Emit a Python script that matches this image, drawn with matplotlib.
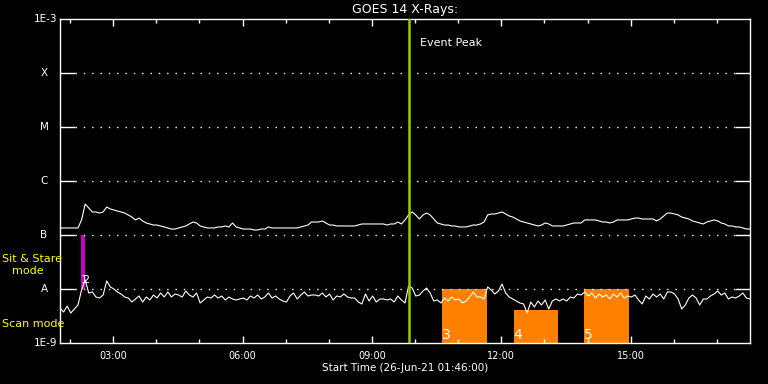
import matplotlib
matplotlib.use("Agg")
import matplotlib.pyplot as plt
import matplotlib.dates as mdates
import matplotlib.transforms as mtransforms
import numpy as np
import pandas as pd

day = "2021-06-26 "
startTime = pd.Timestamp(day + "01:46")
endTime = pd.Timestamp(day + "17:46")

# GOES 14 long channel (1-8 A), 5 min cadence, units of 1e-7 W/m^2
longFlux = np.array([
    1.35, 1.35, 1.35, 1.35, 1.35, 1.35, 1.90, 3.75, 3.16, 2.67,
    2.67, 2.55, 2.67, 3.30, 3.03, 2.90, 2.78, 2.67, 2.55, 2.35,
    2.15, 1.90, 2.06, 1.82, 1.67, 1.60, 1.53, 1.53, 1.47, 1.41,
    1.35, 1.29, 1.29, 1.35, 1.41, 1.47, 1.60, 1.74, 1.67, 1.47,
    1.41, 1.35, 1.35, 1.35, 1.41, 1.41, 1.47, 1.41, 1.67, 1.41,
    1.35, 1.29, 1.29, 1.29, 1.24, 1.24, 1.29, 1.29, 1.41, 1.35,
    1.35, 1.35, 1.35, 1.35, 1.35, 1.35, 1.35, 1.41, 1.47, 1.53,
    1.74, 1.74, 1.74, 1.82, 1.67, 1.53, 1.53, 1.47, 1.47, 1.47,
    1.47, 1.47, 1.47, 1.53, 1.60, 1.60, 1.60, 1.60, 1.60, 1.60,
    1.60, 1.53, 1.60, 1.60, 1.74, 1.60, 1.90, 2.35, 2.67, 2.35,
    1.98, 2.35, 2.55, 2.35, 1.98, 1.67, 1.60, 1.53, 1.53, 1.47,
    1.47, 1.41, 1.41, 1.41, 1.47, 1.53, 1.53, 1.60, 1.74, 2.35,
    2.45, 2.45, 2.55, 2.67, 2.45, 2.25, 2.15, 1.98, 1.82, 1.74,
    1.67, 1.60, 1.53, 1.47, 1.53, 1.67, 1.60, 1.47, 1.47, 1.47,
    1.47, 1.53, 1.60, 1.67, 1.67, 1.67, 1.90, 1.90, 1.90, 1.90,
    1.82, 1.74, 1.74, 1.67, 1.74, 1.90, 1.90, 1.90, 1.90, 1.98,
    2.06, 2.06, 1.98, 1.98, 1.98, 1.98, 1.82, 1.98, 2.25, 2.55,
    2.55, 2.45, 2.35, 2.15, 2.06, 1.98, 1.82, 1.74, 1.67, 1.60,
    1.74, 1.82, 1.90, 1.82, 1.67, 1.60, 1.47, 1.47, 1.41, 1.41,
    1.35, 1.29, 1.29]) * 1e-7

# short channel (0.5-4 A), units of 1e-9 W/m^2
shortFlux = np.array([
    4.45, 3.75, 4.84, 3.59, 4.26, 5.06, 9.58, 14.7, 8.43, 8.80,
    7.11, 6.81, 7.74, 14.1, 10.9, 10.0, 8.80, 8.08, 7.11, 6.81,
    5.74, 6.53, 7.42, 5.74, 7.11, 6.26, 7.74, 6.81, 8.43, 7.11,
    8.80, 7.11, 8.08, 7.74, 7.11, 9.18, 7.74, 7.11, 8.43, 5.50,
    6.26, 7.11, 6.81, 7.74, 6.81, 7.42, 6.26, 7.11, 6.53, 6.26,
    6.53, 6.81, 6.26, 7.42, 6.81, 7.74, 6.53, 7.11, 8.43, 6.81,
    7.42, 6.53, 5.99, 5.74, 7.42, 8.43, 6.53, 7.74, 8.80, 7.42,
    7.74, 7.74, 7.42, 8.43, 7.11, 8.08, 6.26, 7.42, 7.11, 8.08,
    7.11, 6.81, 6.81, 5.74, 5.28, 8.08, 5.99, 7.42, 5.74, 6.53,
    6.53, 6.26, 6.53, 5.74, 7.42, 6.26, 5.50, 11.4, 10.4, 7.42,
    7.74, 9.18, 10.4, 8.43, 5.99, 6.26, 5.50, 6.81, 5.99, 7.11,
    6.26, 6.53, 5.50, 5.99, 7.11, 8.80, 7.11, 7.11, 6.53, 10.9,
    9.58, 8.08, 9.18, 12.4, 8.43, 7.11, 6.53, 5.99, 5.50, 5.28,
    3.59, 5.74, 4.64, 5.99, 5.06, 6.26, 4.26, 5.99, 6.53, 5.99,
    6.53, 5.99, 7.11, 6.81, 8.08, 7.74, 8.80, 7.42, 8.43, 6.81,
    8.08, 7.11, 7.74, 6.53, 8.08, 7.11, 8.43, 6.81, 7.42, 7.11,
    7.74, 6.26, 5.28, 7.42, 6.53, 8.08, 7.11, 8.08, 6.53, 8.80,
    8.80, 8.08, 6.53, 4.26, 5.06, 6.81, 7.74, 6.81, 5.06, 6.53,
    6.53, 7.42, 8.08, 9.18, 7.74, 8.43, 6.53, 7.11, 6.81, 7.42,
    8.43, 6.81, 6.53]) * 1e-9

times = pd.date_range(startTime, periods=len(longFlux), freq="5min")

levelNames = ["A", "B", "C", "M", "X"]
levelValues = [1e-8, 1e-7, 1e-6, 1e-5, 1e-4]

eventPeak = pd.Timestamp(day + "09:52")

# sit & stare observations (1, 2)
sitStart = pd.Timestamp(day + "02:15")
sitEnd = pd.Timestamp(day + "02:21")
sitLabels = ["1", "2"]
sitLabelTimes = [day + "02:20", day + "02:22"]

# scan mode rasters
scanLabels = ["3", "4", "5"]
scanStarts = ["10:38", "12:17", "13:55"]
scanEnds = ["11:40", "13:19", "14:58"]
scanTops = [1e-8, 4.1e-9, 1e-8]

fig = plt.figure(figsize=(7.68, 3.84), dpi=100, facecolor="black")
ax = fig.add_axes([60 / 768, 41 / 384, 690 / 768, 324 / 384], facecolor="black")

for lab, s, e, top in zip(scanLabels, scanStarts, scanEnds, scanTops):
    t0 = pd.Timestamp(day + s)
    t1 = pd.Timestamp(day + e)
    ax.fill_between([t0, t1], 1e-9, top, color="#FF8000", lw=0, zorder=1)
    ax.text(t0, 1.2e-9, lab, color="white", fontsize=10, ha="left", va="baseline", zorder=4)

ax.fill_between([sitStart, sitEnd], 1e-8, 1e-7, color="#C800C8", lw=0, zorder=1)

ax.plot(times, longFlux, color="white", lw=0.8, zorder=3)
ax.plot(times, shortFlux, color="white", lw=0.8, zorder=3)

for lab, t in zip(sitLabels, sitLabelTimes):
    ax.text(pd.Timestamp(t), 1.45e-8, lab, color="white", fontsize=8,
            ha="center", va="center", zorder=4)

ax.axvline(eventPeak, color="#9ACD00", lw=1.8, zorder=5)
ax.text(pd.Timestamp(day + "10:07"), 0.926, "Event Peak", color="white", fontsize=8,
        ha="left", va="center", transform=mtransforms.blended_transform_factory(ax.transData, ax.transAxes))

for v in levelValues:
    ax.axhline(v, xmin=0.022, xmax=0.979, color="white", lw=1, ls=(0, (1, 5)), zorder=2)

ax.set_yscale("log")
ax.set_ylim(1e-9, 1e-3)
ax.set_xlim(startTime, endTime)

ax.set_yticks(levelValues)
ax.yaxis.set_minor_locator(matplotlib.ticker.NullLocator())
ax.tick_params(axis="y", which="major", direction="in", length=10.8, width=1,
               color="white", left=True, right=True, labelleft=False)

ax.xaxis.set_major_locator(mdates.HourLocator(byhour=[3, 6, 9, 12, 15]))
ax.xaxis.set_minor_locator(mdates.HourLocator())
ax.xaxis.set_major_formatter(mdates.DateFormatter("%H:%M"))
ax.tick_params(axis="x", which="major", direction="in", length=5, width=1,
               color="white", top=True, bottom=True, labelcolor="white", labelsize=7, pad=6)
ax.tick_params(axis="x", which="minor", direction="in", length=2.8, width=1,
               color="white", top=True, bottom=True)

for sp in ax.spines.values():
    sp.set_color("white")
    sp.set_linewidth(1)

ylab = mtransforms.blended_transform_factory(ax.transAxes, ax.transData)
for name, v in zip(levelNames, levelValues):
    ax.text(-0.0232, v, name, color="white", fontsize=7.5, ha="center", va="center", transform=ylab)
ax.text(-0.0045, 1e-3, "1E-3", color="white", fontsize=7.5, ha="right", va="center", transform=ylab)
ax.text(-0.0045, 1e-9, "1E-9", color="white", fontsize=7.5, ha="right", va="center", transform=ylab)

fig.text(405 / 768, 1 - 9.5 / 384, "GOES 14 X-Rays:", color="white", fontsize=9, ha="center", va="center")
fig.text(405 / 768, 1 - 368 / 384, "Start Time (26-Jun-21 01:46:00)", color="white", fontsize=7.5,
         ha="center", va="center")

fig.text(2 / 768, 1 - 259 / 384, "Sit & Stare", color="yellow", fontsize=8, ha="left", va="center")
fig.text(12 / 768, 1 - 271 / 384, "mode", color="yellow", fontsize=8, ha="left", va="center")
fig.text(2 / 768, 1 - 324 / 384, "Scan mode", color="yellow", fontsize=8, ha="left", va="center")

fig.savefig("out.png", dpi=100, facecolor="black")
